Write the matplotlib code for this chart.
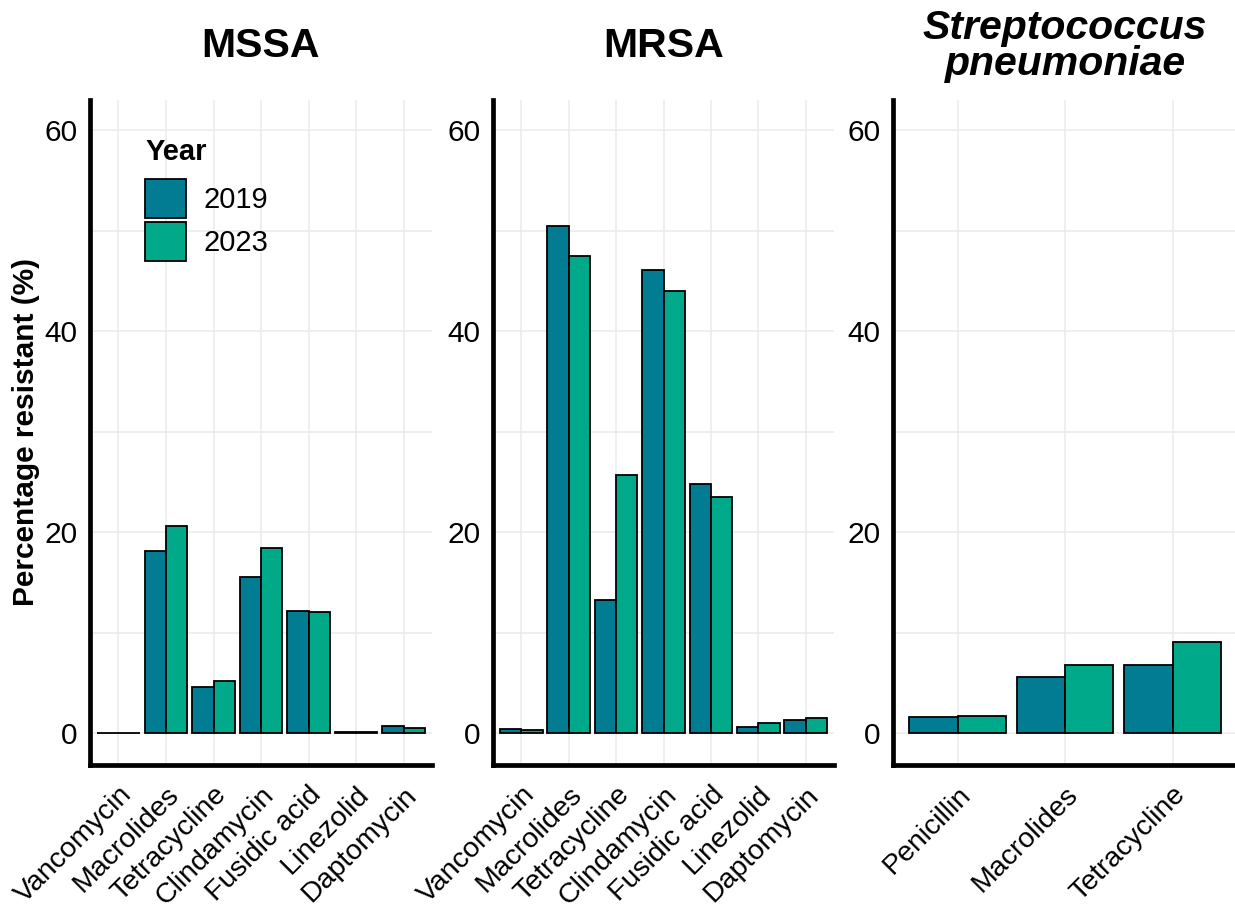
import matplotlib.pyplot as plt
import numpy as np

plt.rcParams['font.family'] = ['Liberation Sans', 'DejaVu Sans']

years = ['2019', '2023']
colors = ['#017C92', '#00A98A']

mssa_drugs = ['Vancomycin', 'Macrolides', 'Tetracycline', 'Clindamycin',
              'Fusidic acid', 'Linezolid', 'Daptomycin']
mssa_2019 = [0.05, 18.1, 4.6, 15.6, 12.2, 0.1, 0.7]
mssa_2023 = [0.05, 20.6, 5.2, 18.4, 12.1, 0.1, 0.5]

mrsa_drugs = mssa_drugs
mrsa_2019 = [0.4, 50.5, 13.3, 46.1, 24.8, 0.65, 1.3]
mrsa_2023 = [0.3, 47.5, 25.7, 44.0, 23.5, 1.05, 1.5]

spn_drugs = ['Penicillin', 'Macrolides', 'Tetracycline']
spn_2019 = [1.6, 5.65, 6.8]
spn_2023 = [1.7, 6.8, 9.05]

panels = [
    ('MSSA', mssa_drugs, mssa_2019, mssa_2023, 'normal'),
    ('MRSA', mrsa_drugs, mrsa_2019, mrsa_2023, 'normal'),
    ('Streptococcus\npneumoniae', spn_drugs, spn_2019, spn_2023, 'italic'),
]

fig = plt.figure(figsize=(12.35, 9.07), dpi=100)
W, H = 1235, 907
lefts = [90, 493, 893]
rights = [432, 834, 1237]
top, bottom = 100, 765

grid_col = '#EBEBEB'
axes = []
for i, (title, drugs, v19, v23, style) in enumerate(panels):
    ax = fig.add_axes([lefts[i] / W, 1 - bottom / H, (rights[i] - lefts[i]) / W, (bottom - top) / H])
    axes.append(ax)
    x = np.arange(len(drugs))
    bw = 0.45
    ax.bar(x - bw / 2, v19, width=bw, color=colors[0], edgecolor='black', linewidth=1.3, zorder=3, label=years[0])
    ax.bar(x + bw / 2, v23, width=bw, color=colors[1], edgecolor='black', linewidth=1.3, zorder=3, label=years[1])
    ax.set_xlim(-0.6, len(drugs) - 0.4)
    ax.set_ylim(-3.15, 63)
    ax.set_yticks([0, 20, 40, 60])
    ax.set_yticks([10, 30, 50], minor=True)
    ax.set_xticks(x)
    ax.set_xticklabels(drugs, rotation=45, ha='right', va='top', rotation_mode='anchor', fontsize=20.5)
    ax.tick_params(axis='y', which='both', length=0, labelsize=21.5, pad=9)
    ax.tick_params(axis='x', which='both', length=0, pad=12)
    ax.grid(True, which='both', color=grid_col, linewidth=1.1, zorder=0)
    ax.set_axisbelow(True)
    for s in ['top', 'right']:
        ax.spines[s].set_visible(False)
    for s in ['left', 'bottom']:
        ax.spines[s].set_linewidth(3.4)
        ax.spines[s].set_capstyle('projecting')
    cx = (lefts[i] + rights[i]) / 2 / W
    fig.text(cx, 1 - 46 / H, title, ha='center', va='center', fontsize=29.5,
             fontweight='bold', fontstyle=style, linespacing=0.95)

axes[0].set_ylabel('Percentage resistant (%)', fontsize=21.5, fontweight='bold', labelpad=3)
leg = axes[0].legend(title='Year', loc='upper left', bbox_to_anchor=(0.085, 0.982), frameon=False,
                     fontsize=21, title_fontproperties={'weight': 'bold', 'size': 21},
                     handlelength=1.4, handleheight=1.7, labelspacing=0.12, handletextpad=0.6,
                     alignment='left')
leg._legend_box.sep = 9  # more room between "Year" and the keys

fig.savefig('out.png', dpi=100)
